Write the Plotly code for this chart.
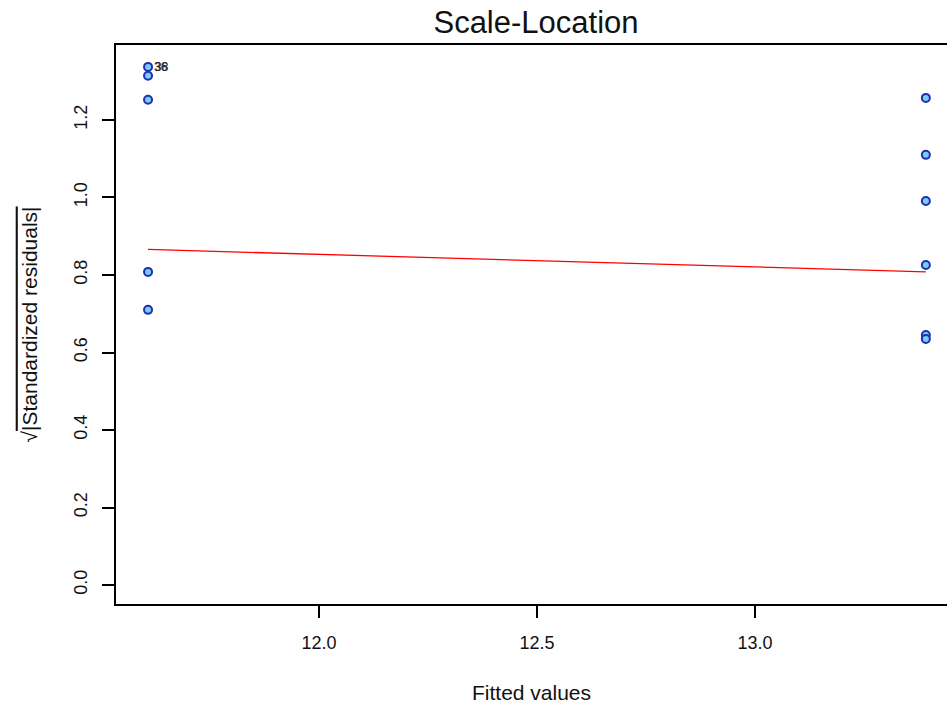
import plotly.graph_objects as go

# Data
fitted_left = [11.608, 11.608, 11.608, 11.608, 11.608]
sqrt_res_left = [1.337, 1.314, 1.252, 0.808, 0.710]
fitted_right = [13.392, 13.392, 13.392, 13.392, 13.392, 13.392]
sqrt_res_right = [1.257, 1.110, 0.991, 0.826, 0.645, 0.635]

smooth_x = [11.608, 13.392]
smooth_y = [0.866, 0.808]

label_x = [11.608, 11.608]
label_y = [1.337, 1.337]
label_text = ["36", "38"]

x_ticks = [12.0, 12.5, 13.0]
y_ticks = [0.0, 0.2, 0.4, 0.6, 0.8, 1.0, 1.2]

FONT = "Liberation Sans, Arial, sans-serif"

fig = go.Figure()
fig.add_trace(go.Scatter(
    x=fitted_left + fitted_right, y=sqrt_res_left + sqrt_res_right,
    mode="markers",
    marker=dict(size=8, color="#78cdf4", line=dict(color="#1f2fb0", width=2)),
    showlegend=False, hoverinfo="x+y"))
fig.add_trace(go.Scatter(
    x=smooth_x, y=smooth_y, mode="lines",
    line=dict(color="#ff0000", width=1.3), showlegend=False))
for i, (lx, ly, lt) in enumerate(zip(label_x, label_y, label_text)):
    fig.add_annotation(x=lx, y=ly, text=lt, showarrow=False, xanchor="left",
                       xshift=4 + i, yshift=0,
                       font=dict(family=FONT, size=12, color="#222222"))

fig.update_layout(
    width=947, height=711,
    margin=dict(l=116, r=0, t=45, b=107),
    paper_bgcolor="white", plot_bgcolor="white",
    title=dict(text="Scale-Location", x=536 / 947, xanchor="center",
               y=1 - 22 / 711, yanchor="middle",
               font=dict(family=FONT, size=31, color="#111111")),
    font=dict(family=FONT, color="#111111"),
    xaxis=dict(range=[11.5345, 13.4405], tickvals=x_ticks,
               ticktext=[f"{v:.1f}" for v in x_ticks],
               showgrid=False, zeroline=False, showline=True, linecolor="black",
               linewidth=1.5, mirror=True, ticks="outside", ticklen=12,
               tickcolor="black", tickwidth=1.5, ticklabelstandoff=10,
               tickfont=dict(size=18),
               title=dict(text="Fitted values", font=dict(size=21), standoff=33)),
    yaxis=dict(range=[-0.049, 1.3935], tickvals=y_ticks,
               ticktext=[f"{v:.1f}" for v in y_ticks], tickangle=-90,
               showgrid=False, zeroline=False, showline=True, linecolor="black",
               linewidth=1.5, mirror=False, ticks="outside", ticklen=12,
               tickcolor="black", tickwidth=1.5, ticklabelstandoff=8,
               tickfont=dict(size=18),
               title=dict(text="√<span style='text-decoration:overline'>|Standardized residuals|</span>",
                          font=dict(size=21), standoff=28)),
)

fig.write_html("out.html", config={"displayModeBar": False})
